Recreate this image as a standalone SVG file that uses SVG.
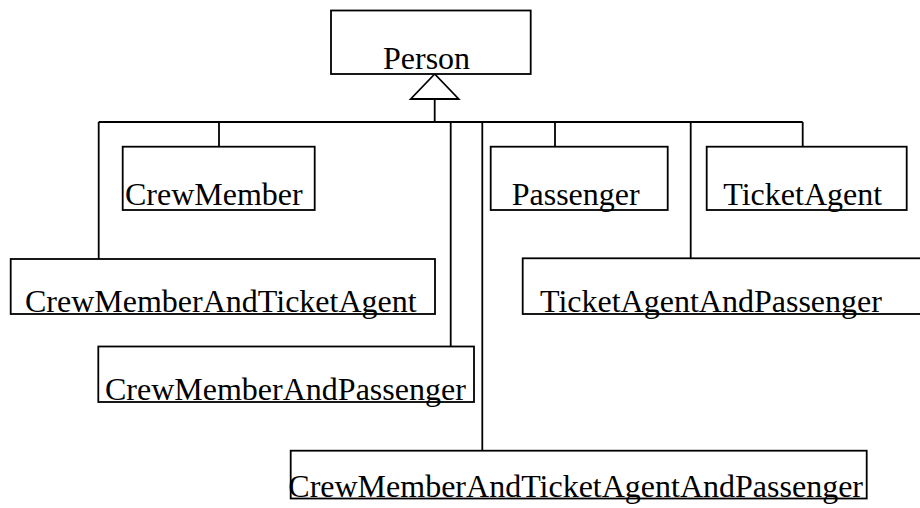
<svg xmlns="http://www.w3.org/2000/svg" width="920" height="508" viewBox="0 0 920 508">
  <style>
    .box { fill: #ffffff; stroke: #000000; stroke-width: 1.8; }
    .label { font-family: "Liberation Serif", "Times New Roman", serif; font-size: 32px; fill: #000000; }
    .wire { fill: none; stroke: #000000; stroke-width: 1.8; }
    .head { fill: #ffffff; stroke: #000000; stroke-width: 1.8; }
  </style>
  <rect width="920" height="508" fill="#ffffff"/>

  <!-- inheritance tree: shared bus, drops to each subclass, open triangle at the base class -->
  <g id="connectors">
    <path class="wire" d="M98.7,122 H802.7 M434.7,99 V122"/>
    <path class="wire" d="M98.7,122 V259"/>
    <path class="wire" d="M219,122 V146.7"/>
    <path class="wire" d="M450.7,122 V346.5"/>
    <path class="wire" d="M482.3,122 V450.7"/>
    <path class="wire" d="M555,122 V146.7"/>
    <path class="wire" d="M690.7,122 V258.3"/>
    <path class="wire" d="M802.7,122 V146.7"/>
    <polygon class="head" points="434.7,74 410.7,99 458.7,99"/>
  </g>

  <g id="Person">
    <rect class="box" x="331" y="10.5" width="199.7" height="63.5"/>
    <text class="label" x="383" y="69">Person</text>
  </g>

  <g id="CrewMember">
    <rect class="box" x="122.7" y="146.7" width="192" height="63.3"/>
    <text class="label" x="125" y="205">CrewMember</text>
  </g>

  <g id="Passenger">
    <rect class="box" x="490.7" y="146.7" width="177" height="63.3"/>
    <text class="label" x="511.7" y="205">Passenger</text>
  </g>

  <g id="TicketAgent">
    <rect class="box" x="706.7" y="146.7" width="200" height="63.3"/>
    <text class="label" x="723.3" y="205">TicketAgent</text>
  </g>

  <g id="CrewMemberAndTicketAgent">
    <rect class="box" x="10.7" y="259" width="424.3" height="55"/>
    <text class="label" x="25" y="312">CrewMemberAndTicketAgent</text>
  </g>

  <g id="TicketAgentAndPassenger">
    <rect class="box" x="522.7" y="258.3" width="402" height="55.7"/>
    <text class="label" x="540" y="312">TicketAgentAndPassenger</text>
  </g>

  <g id="CrewMemberAndPassenger">
    <rect class="box" x="98.3" y="346.5" width="375.7" height="55.5"/>
    <text class="label" x="105" y="400">CrewMemberAndPassenger</text>
  </g>

  <g id="CrewMemberAndTicketAgentAndPassenger">
    <rect class="box" x="290.7" y="450.7" width="576" height="47.8"/>
    <text class="label" x="288.3" y="497">CrewMemberAndTicketAgentAndPassenger</text>
  </g>
</svg>
